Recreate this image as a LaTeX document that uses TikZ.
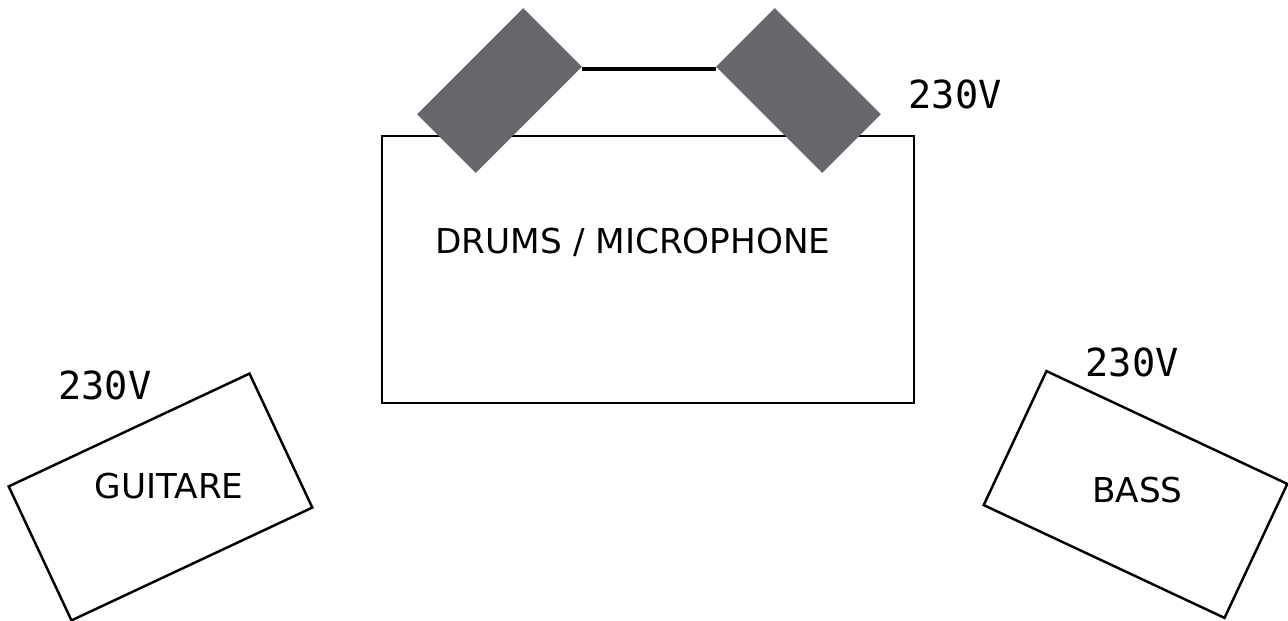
\documentclass[tikz,border=0pt]{standalone}
\usepackage{fontspec}
\setmainfont{DejaVu Sans}
\newfontfamily\voltfont{DejaVu Sans Mono}
\usepackage{tikz}
\usetikzlibrary{positioning}
\definecolor{spkgray}{RGB}{103,102,108}
\tikzset{
  amp/.style={draw,line width=1.4pt,inner sep=0pt,minimum width=5.32cm,minimum height=2.96cm},
  spk/.style={fill=spkgray,inner sep=0pt,minimum width=3cm,minimum height=1.66cm},
  lbl/.style={font=\fontsize{19.5}{22}\selectfont,inner sep=0pt},
  volt/.style={font=\voltfont\fontsize{22}{24}\selectfont,inner sep=0pt}
}
\begin{document}
\begin{tikzpicture}[x=0.02cm,y=-0.02cm]
\useasboundingbox (0,0) rectangle (1288,621);
\node[draw,line width=1.4pt,inner sep=0pt,minimum width=10.64cm,minimum height=5.34cm] (D) at (648,269.5) {};
\node[spk,rotate=45] (S1) at (499.5,90.5) {};
\node[spk,rotate=-45] (S2) at (798.5,90.5) {};
\draw[line width=2.6pt] ([yshift=-0.04cm]S1.south east) -- ([yshift=-0.04cm]S2.south west);
\node[amp,rotate=25.1] (G) at (160.5,497) {};
\node[amp,rotate=-25.1] (B) at (1135.5,494.5) {};
\node[lbl] (DL) at (633,242) {DRUMS / MICROPHONE};
\node[lbl] (GL) at (169,486) {GUITARE};
\node[lbl] (BL) at (1137.5,490) {BASS};
\node[volt] (V1) at (955,94) {230V};
\node[volt] (V2) at (105,385) {230V};
\node[volt] (V3) at (1132,362) {230V};
\end{tikzpicture}
\end{document}
